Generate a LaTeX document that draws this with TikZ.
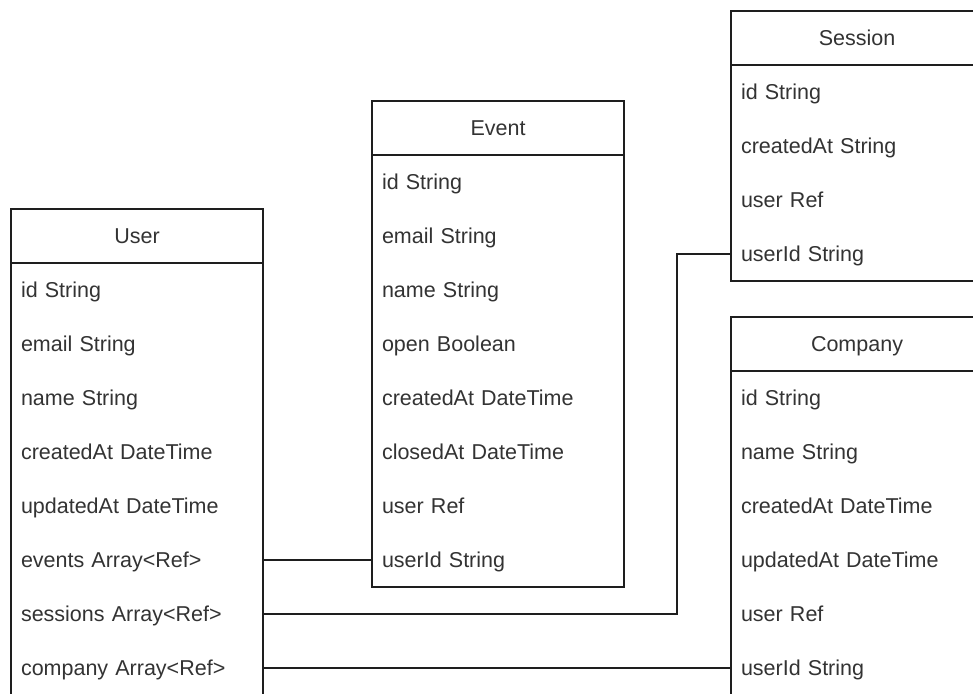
\documentclass[tikz,border=0pt]{standalone}
\usepackage{fontspec}
\setmainfont{Liberation Sans}
\definecolor{linec}{HTML}{1E1E1E}
\definecolor{txtc}{HTML}{333333}
\tikzset{
  frame/.style={draw=linec, line width=1.6pt},
  hdr/.style={draw=linec, line width=1.6pt, minimum width=252pt, minimum height=54pt,
    inner sep=0pt, outer sep=0pt, anchor=north west, text=txtc,
    text height=15.5pt, text depth=0pt, font=\fontsize{21.5}{25}\selectfont},
  fld/.style={text width=232pt, inner xsep=10pt, inner ysep=0pt, outer sep=0pt,
    minimum height=54pt, align=left, anchor=north west, text=txtc,
    text height=15.5pt, text depth=0pt, font=\fontsize{21.5}{25}\selectfont},
  link/.style={draw=linec, line width=1.6pt}
}
% entity box: name, top-left corner, title, number of rows, rows
\newcommand\entity[5]{%
  \node[hdr] (#1) at (#2) {#3};
  \foreach \f [count=\i] in {#5}
    \node[fld] (#1-\i) at ([yshift=-(\i-1)*54pt]#1.south west) {\f};
  \draw[frame] (#1.north west) rectangle ([yshift=-#4*54pt]#1.south east);
}
\begin{document}
\begin{tikzpicture}[x=1pt, y=-1pt]
  \useasboundingbox (0,0) rectangle (973,693);
  \clip (0,0) rectangle (973,693);
  \fill[white] (0,0) rectangle (973,693);

  \entity{user}{11,209}{User}{8}{id String, email String, name String,
    createdAt DateTime, updatedAt DateTime, events Array<Ref>,
    sessions Array<Ref>, company Array<Ref>}
  \entity{event}{372,101}{Event}{8}{id String, email String, name String,
    open Boolean, createdAt DateTime, closedAt DateTime, user Ref, userId String}
  \entity{session}{731,11}{Session}{4}{id String, createdAt String, user Ref,
    userId String}
  \entity{company}{731,317}{Company}{6}{id String, name String,
    createdAt DateTime, updatedAt DateTime, user Ref, userId String}

  % relations
  \coordinate (bend) at (677,0);
  \draw[link] (user-6.east) -- (event-8.west);
  \draw[link] (user-7.east) -- (user-7.east -| bend) -- (bend |- session-4.west)
    -- (session-4.west);
  \draw[link] (user-8.east) -- (company-6.west);
\end{tikzpicture}
\end{document}
